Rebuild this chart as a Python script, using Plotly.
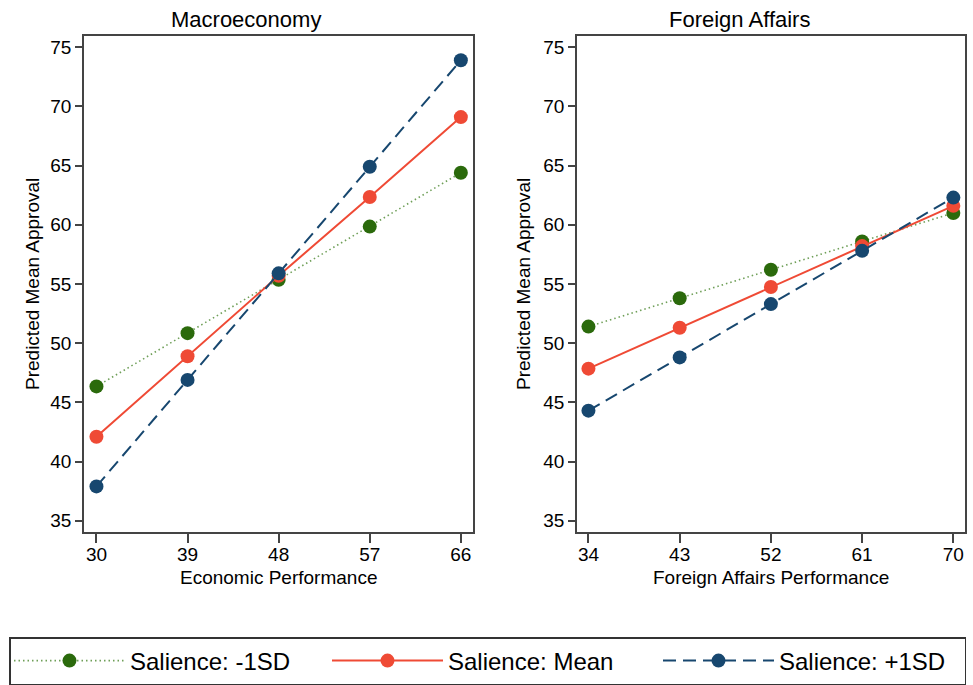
import plotly.graph_objects as go

# ---- data ----
econ_x = [30, 39, 48, 57, 66]
econ_low = [46.35, 50.85, 55.35, 59.85, 64.4]
econ_mean = [42.1, 48.9, 55.7, 62.35, 69.1]
econ_high = [37.9, 46.9, 55.9, 64.9, 73.9]

fa_x = [34, 43, 52, 61, 70]
fa_low = [51.4, 53.8, 56.2, 58.6, 61.0]
fa_mean = [47.85, 51.3, 54.75, 58.2, 61.6]
fa_high = [44.3, 48.8, 53.3, 57.8, 62.3]

y_ticks = [35, 40, 45, 50, 55, 60, 65, 70, 75]

series_names = ["Salience: -1SD", "Salience: Mean", "Salience: +1SD"]
panel_titles = ["Macroeconomy", "Foreign Affairs"]
x_titles = ["Economic Performance", "Foreign Affairs Performance"]
y_title = "Predicted Mean Approval"

GREEN = "#2b6a0c"
GREEN_LINE = "#6f9f58"
RED = "#ef4a35"
BLUE = "#17476f"
FONT = "Liberation Sans, Arial, Helvetica, sans-serif"

styles = [
    dict(line=dict(color=GREEN_LINE, width=1.6, dash="1.5px,3px"), marker=dict(color=GREEN, size=14)),
    dict(line=dict(color=RED, width=2), marker=dict(color=RED, size=14)),
    dict(line=dict(color=BLUE, width=2, dash="13px,7px"), marker=dict(color=BLUE, size=14)),
]
legend_widths = [192, 205, 180]

fig = go.Figure()
panels = [
    (econ_x, [econ_low, econ_mean, econ_high], "x", "y"),
    (fa_x, [fa_low, fa_mean, fa_high], "x2", "y2"),
]
for p, (xs, ys_list, xa, ya) in enumerate(panels):
    for i, ys in enumerate(ys_list):
        fig.add_trace(go.Scatter(
            x=xs, y=ys, mode="lines+markers", name=series_names[i],
            xaxis=xa, yaxis=ya, showlegend=(p == 0), legendgroup=series_names[i],
            legendwidth=legend_widths[i],
            line=styles[i]["line"], marker=styles[i]["marker"],
        ))

axis_common = dict(
    showline=True, mirror=True, linecolor="#444", linewidth=1.5,
    ticks="outside", tickcolor="#444", tickwidth=1.5,
    showgrid=False, zeroline=False, automargin=False,
    tickfont=dict(family=FONT, size=19, color="black"),
)

fig.update_layout(
    width=973, height=685,
    margin=dict(l=0, r=0, t=0, b=0, autoexpand=False),
    paper_bgcolor="white", plot_bgcolor="white",
    template="none",
    font=dict(family=FONT, color="black"),
    xaxis=dict(domain=[84 / 973, 473 / 973], range=[28.77, 67.2], tickvals=econ_x,
               ticklen=9, ticklabelstandoff=-5, anchor="y", **axis_common),
    yaxis=dict(domain=[1 - 532 / 685, 1 - 36 / 685], range=[34.05, 75.95], tickvals=y_ticks,
               ticklen=7, anchor="x", **axis_common),
    xaxis2=dict(domain=[577 / 973, 965 / 973], range=[32.87, 71.15], tickvals=fa_x,
                ticklen=9, ticklabelstandoff=-5, anchor="y2", **axis_common),
    yaxis2=dict(domain=[1 - 532 / 685, 1 - 36 / 685], range=[34.05, 75.95], tickvals=y_ticks,
                ticklen=7, anchor="x2", **axis_common),
    legend=dict(
        orientation="h", x=9 / 973, xanchor="left", y=1 - 637 / 685, yanchor="top",
        bgcolor="white", bordercolor="#333", borderwidth=1.5,
        font=dict(family=FONT, size=24, color="black"),
        itemwidth=111, entrywidthmode="pixels",
        itemclick=False, itemdoubleclick=False,
    ),
    showlegend=True,
)

ann = []
for cx, t in zip([246, 739], panel_titles):
    ann.append(dict(text=t, x=cx / 973, y=1 - 20 / 685, xref="paper", yref="paper",
                    xanchor="center", yanchor="middle", showarrow=False,
                    font=dict(family=FONT, size=22, color="black")))
for cx, t in zip([278.5, 771], x_titles):
    ann.append(dict(text=t, x=cx / 973, y=1 - 577 / 685, xref="paper", yref="paper",
                    xanchor="center", yanchor="middle", showarrow=False,
                    font=dict(family=FONT, size=19, color="black")))
for cx in [32, 523]:
    ann.append(dict(text=y_title, x=cx / 973, y=1 - 284 / 685, xref="paper", yref="paper",
                    xanchor="center", yanchor="middle", showarrow=False, textangle=-90,
                    font=dict(family=FONT, size=19, color="black")))
fig.update_layout(annotations=ann)

fig.write_html("out.html", config={"displayModeBar": False},
               post_script="document.body.style.margin='0';document.body.style.overflow='hidden';")
